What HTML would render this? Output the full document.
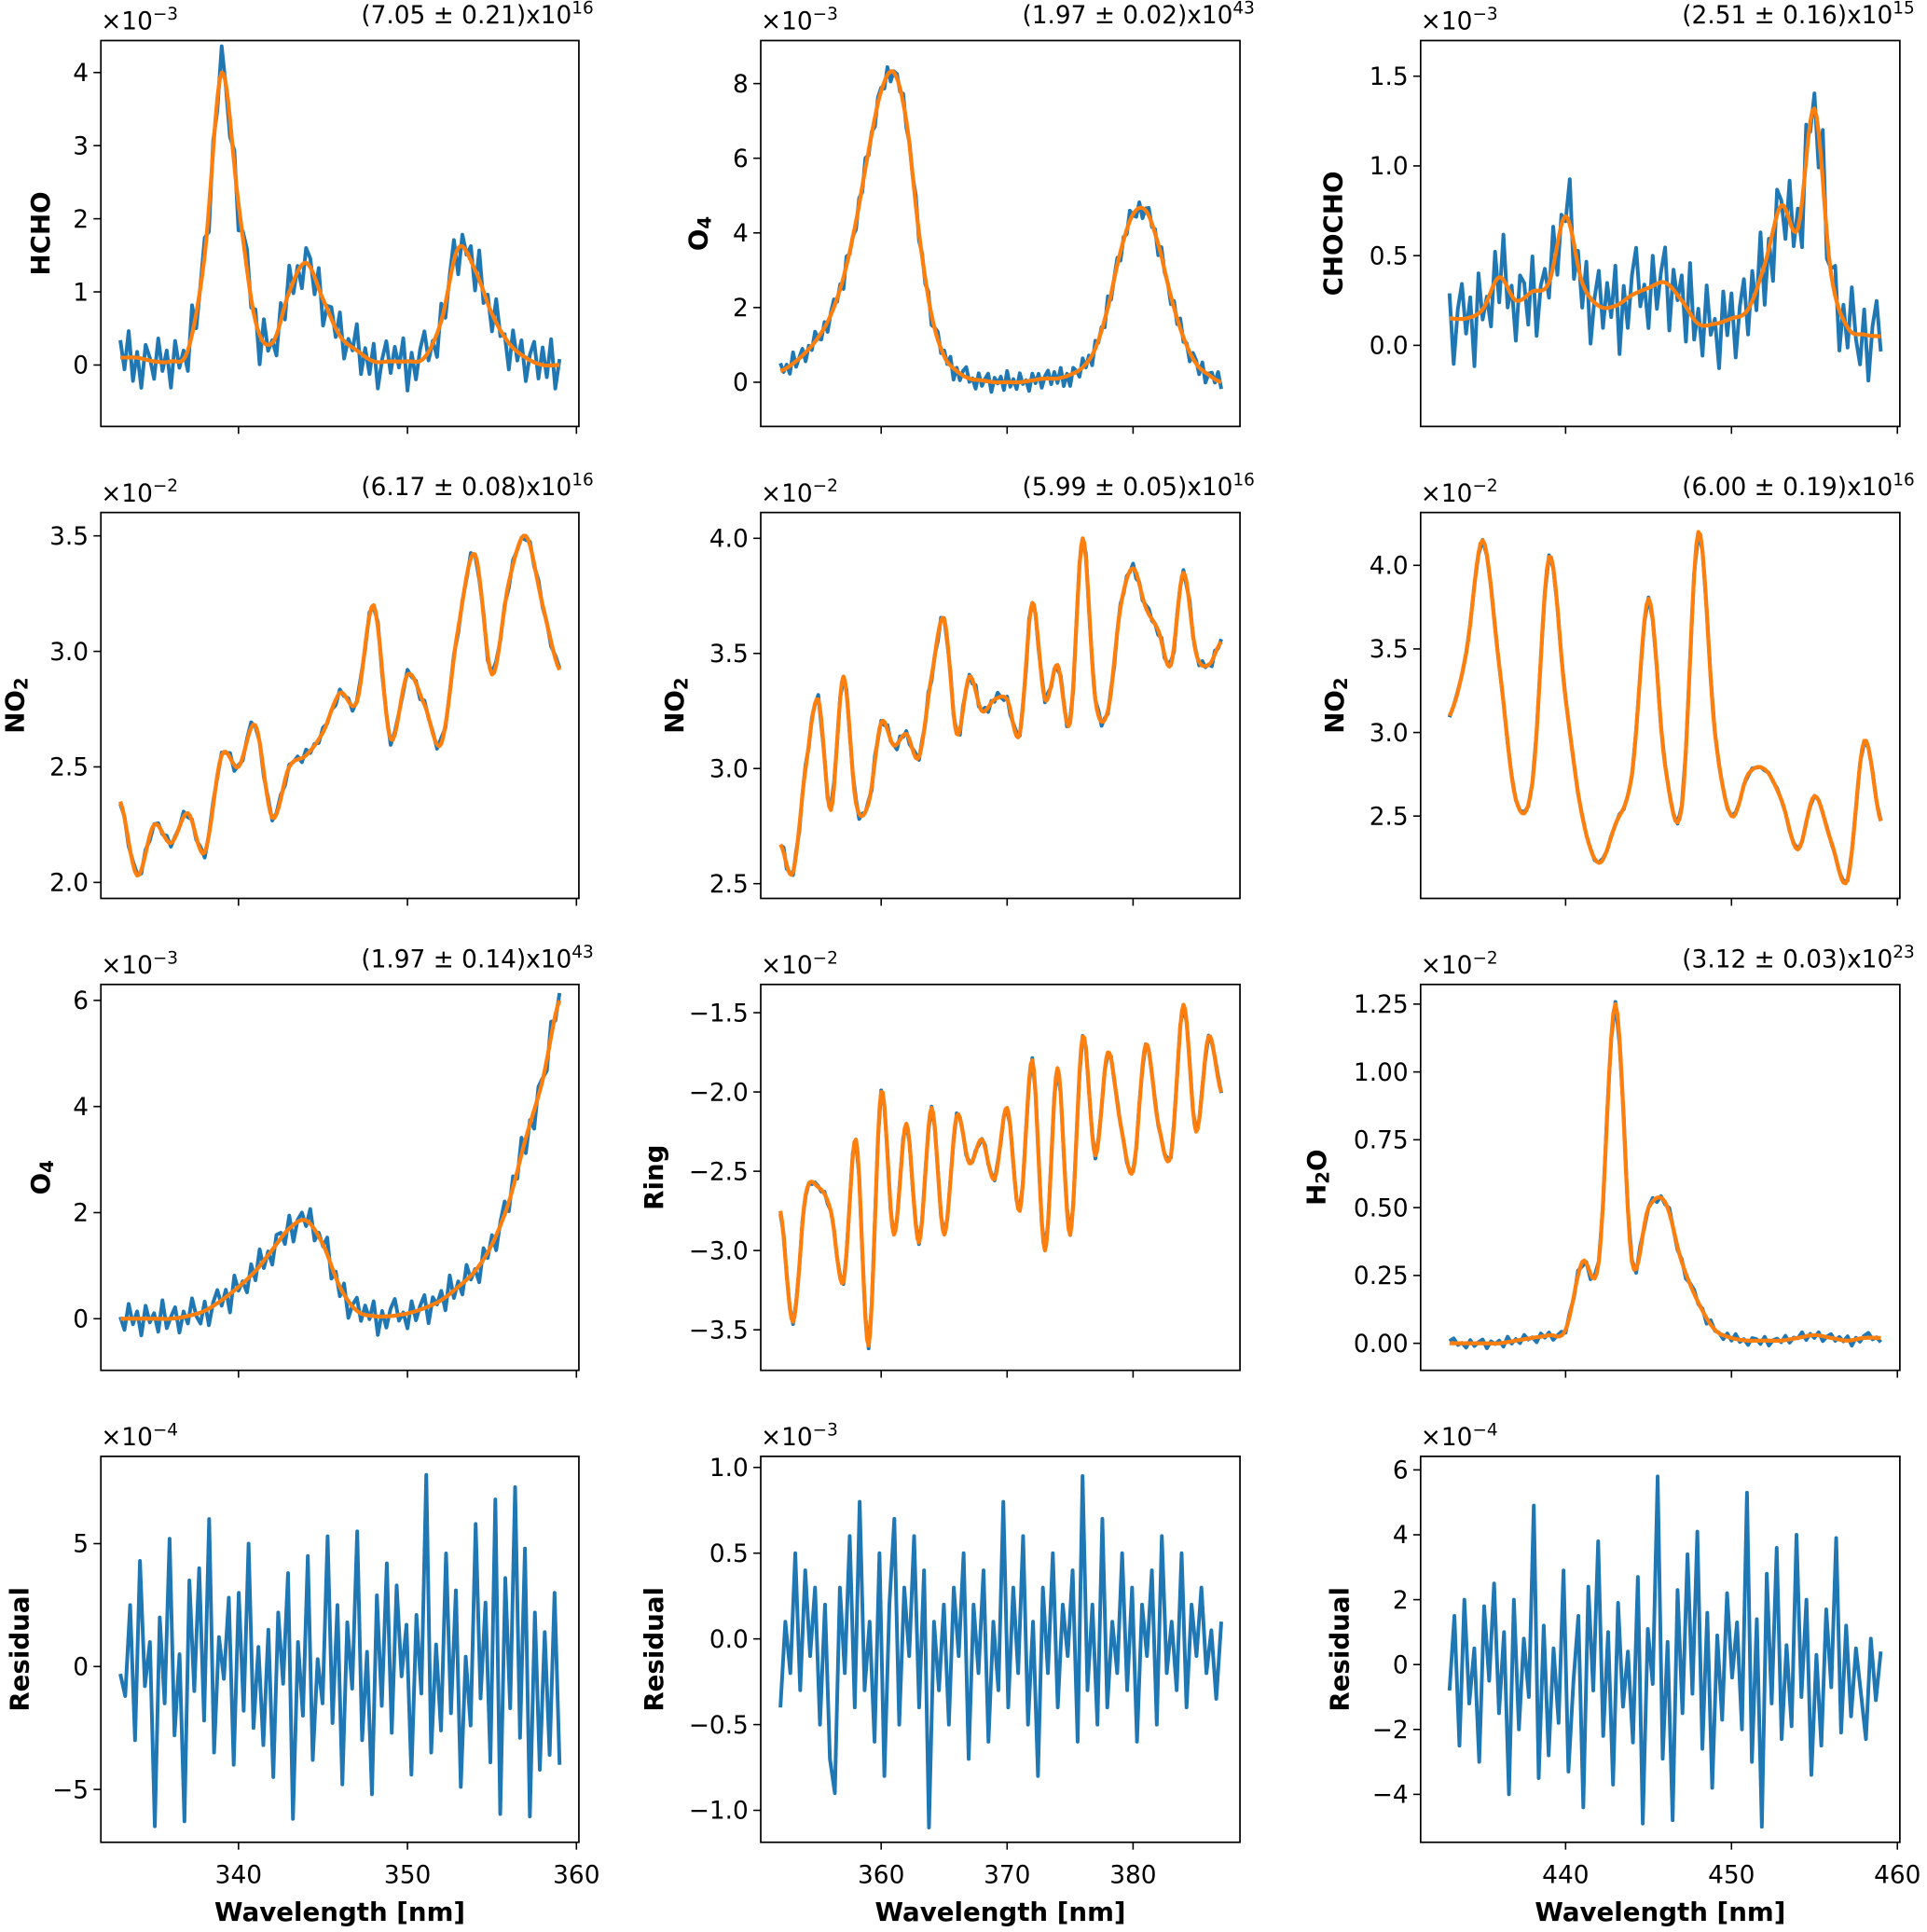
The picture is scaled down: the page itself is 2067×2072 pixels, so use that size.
<!DOCTYPE html>
<html><head><meta charset="utf-8">
<style>
html,body{margin:0;padding:0;background:#fff;}
svg{display:block;}
text{font-family:"DejaVu Sans","Liberation Sans",sans-serif;fill:#000;}
</style></head>
<body>
<svg id="fig" width="2067" height="2072" viewBox="0 0 1568 1572" xmlns="http://www.w3.org/2000/svg"></svg>
<script>
// ---- data ----
const hchoFit=[0.1,0.1,0.05,0.05,0.2,1.5,4.0,2.2,0.6,0.3,1.0,1.4,0.9,0.4,0.2,0.05,0.05,0.05,0.1,0.6,1.6,1.3,0.7,0.3,0.1,0.0,0.0];
const o4aFit=[0.3,0.5,0.8,1.2,1.8,2.8,4.3,6.2,7.8,8.3,7.0,4.0,1.8,0.7,0.3,0.1,0.05,0,0,0,0.05,0.1,0.1,0.2,0.4,0.9,2.0,3.5,4.5,4.6,3.7,2.3,1.2,0.5,0.2,0.0];
const chochoFit=[0.15,0.15,0.2,0.38,0.25,0.3,0.35,0.72,0.35,0.22,0.22,0.28,0.32,0.35,0.25,0.12,0.12,0.15,0.2,0.45,0.78,0.65,1.32,0.4,0.1,0.06,0.05];
const no2aFit=[2.35,2.03,2.25,2.17,2.3,2.13,2.55,2.5,2.68,2.28,2.5,2.55,2.65,2.82,2.78,3.2,2.62,2.9,2.77,2.6,3.1,3.42,2.9,3.3,3.5,3.2,2.92];
const no2bFit=[2.67,2.55,3.0,3.3,2.82,3.4,2.85,2.85,3.2,3.1,3.15,3.05,3.4,3.65,3.15,3.4,3.25,3.3,3.3,3.15,3.72,3.3,3.45,3.2,4.0,3.3,3.25,3.7,3.87,3.7,3.6,3.45,3.85,3.5,3.45,3.55];
const no2cFit=[3.1,3.47,4.15,3.4,2.6,2.7,4.05,3.2,2.5,2.22,2.45,2.75,3.8,2.8,2.55,4.2,3.0,2.5,2.75,2.78,2.6,2.3,2.62,2.35,2.12,2.95,2.47];
const o4bFit=[0,0,0,0,0.05,0.15,0.35,0.6,0.9,1.3,1.7,1.85,1.4,0.6,0.15,0.05,0.05,0.1,0.2,0.35,0.6,0.9,1.4,2.2,3.4,4.5,6.0];
const ringFit=[-2.75,-3.45,-2.65,-2.6,-2.75,-3.2,-2.3,-3.6,-2.0,-2.9,-2.2,-2.95,-2.1,-2.9,-2.15,-2.45,-2.3,-2.55,-2.1,-2.75,-1.8,-3.0,-1.85,-2.9,-1.65,-2.4,-1.75,-2.2,-2.5,-1.7,-2.2,-2.4,-1.45,-2.25,-1.65,-2.0];
const h2oFit=[0,0,0,0,0.01,0.02,0.03,0.05,0.3,0.3,1.25,0.3,0.5,0.52,0.3,0.15,0.05,0.02,0.01,0.01,0.01,0.02,0.03,0.02,0.01,0.02,0.02];
const noise=[0.6,-0.4,0.9,-0.8,0.2,-1.0,0.5,0.1,-0.6,0.8,-0.3,0.4,-0.9,0.7,-0.2,0.3,-0.7,1.0,-0.5,0.1,0.6,-0.8,0.3,-0.4,0.9,-0.1,-0.6,0.5,-0.9,0.2,0.7,-0.3,0.4,-1.0,0.8,-0.2,0.1,-0.7,0.6,-0.5,0.9,-0.4,0.2,-0.8,0.5,0.3,-0.6,0.7,-0.9,0.1,0.4,-0.3,0.8,-0.6,0.2,-0.1,0.9,-0.7,0.3,-0.5,0.6,-0.9,0.1,0.7,-0.4,0.5,-0.2,0.8,-1.0,0.3,-0.6,0.4,0.9,-0.3,0.1,-0.8,0.6,-0.5,0.2,0.7,-0.9,0.4,-0.1,0.5,-0.7,1.0,-0.4,0.3,-0.6,0.8,-0.2,0.1,-0.9,0.6,-0.3,0.5,-0.8,0.2,0.7,-0.5];
const res1=[-0.3,-1.2,2.5,-3.0,4.3,-0.8,1.0,-6.5,2.0,-1.5,5.2,-2.8,0.5,-6.3,3.5,-1.0,4.0,-2.2,6.0,-3.5,1.2,-0.5,2.8,-4.0,3.0,-1.8,5.0,-2.5,0.8,-3.2,1.5,-4.5,2.2,-0.7,3.8,-6.2,1.0,-2.0,4.5,-3.8,0.3,-1.5,5.3,-2.3,2.5,-4.8,1.8,-0.9,5.5,-3.0,0.6,-5.2,2.9,-1.6,4.2,-2.7,3.3,-0.4,1.7,-4.4,2.1,-1.1,7.8,-3.5,0.9,-2.6,4.6,-1.9,3.1,-4.9,0.4,-2.4,5.8,-1.3,2.6,-3.9,6.8,-6.0,3.6,-1.7,7.3,-2.9,4.8,-6.1,2.2,-4.2,1.4,-3.6,3.0,-4.0];
const res2=[-0.4,0.1,-0.2,0.5,-0.3,0.4,-0.1,0.3,-0.5,0.2,-0.7,-0.9,0.3,-0.2,0.6,-0.4,0.8,-0.3,0.1,-0.6,0.5,-0.8,0.2,0.7,-0.5,0.3,-0.1,0.6,-0.4,0.4,-1.1,0.1,-0.3,0.2,-0.5,0.3,-0.1,0.5,-0.7,0.2,-0.2,0.4,-0.6,0.1,-0.3,0.8,-0.4,0.3,-0.2,0.6,-0.5,0.1,-0.8,0.3,-0.2,0.5,-0.4,0.2,-0.1,0.4,-0.6,0.95,-0.3,0.2,-0.5,0.7,-0.4,0.1,-0.2,0.5,-0.3,0.3,-0.6,0.2,-0.1,0.4,-0.5,0.6,-0.2,0.1,-0.3,0.5,-0.4,0.2,-0.1,0.3,-0.2,0.05,-0.35,0.1];
const res3=[-0.8,1.5,-2.5,2.0,-1.2,0.5,-3.0,1.8,-0.5,2.5,-1.5,1.0,-4.0,2.0,-2.0,0.8,-1.0,4.9,-3.5,1.2,-2.8,0.5,-1.8,2.9,-3.3,-0.5,1.5,-4.4,2.4,-0.8,3.8,-2.2,1.0,-3.7,1.9,-1.3,0.4,-2.4,2.7,-4.9,1.1,-0.6,5.8,-2.9,0.7,-4.8,2.3,-1.5,3.4,-0.9,4.1,-2.6,1.6,-3.8,0.9,-1.7,2.2,-0.4,1.3,-2.0,5.3,-3.0,1.4,-5.0,2.8,-1.2,3.6,-2.3,0.6,-1.9,4.0,-1.0,2.0,-3.4,0.3,-2.5,1.7,-0.7,3.9,-2.1,1.2,-1.6,0.5,-0.9,-2.3,0.8,-1.1,0.4];

const fig=document.getElementById('fig');
const NS='http://www.w3.org/2000/svg';
function mk(tag,attrs,parent){const e=document.createElementNS(NS,tag);for(const k in attrs)e.setAttribute(k,attrs[k]);(parent||fig).appendChild(e);return e;}
function spline(a,t){const n=a.length;const j=Math.max(0,Math.min(Math.floor(t),n-2));const f=t-j;
 const p0=a[Math.max(j-1,0)],p1=a[j],p2=a[j+1],p3=a[Math.min(j+2,n-1)];
 return 0.5*((2*p1)+(-p0+p2)*f+(2*p0-5*p1+4*p2-p3)*f*f+(-p0+3*p1-3*p2+p3)*f*f*f);}
const cols=[{x0:82,x1:471,ref:[340,194,360,469],start:333,end:359,ticks:[340,350,360]},
 {x0:619,x1:1009,ref:[360,717,380,922],start:352,end:387,ticks:[360,370,380]},
 {x0:1156,x1:1546,ref:[440,1274,450,1409],start:433,end:459,ticks:[440,450,460]}];
const rows=[[33,347],[417,731],[801,1115],[1185,1499]];
const panels=[
 {r:0,c:0,fit:hchoFit,amp:0.4,off:0,yref:[4,59,0,297],ticks:[0,1,2,3,4],dec:0,exp:'−3',lab:'HCHO',lx:33,ann:['(7.05 ± 0.21)x10','16']},
 {r:0,c:1,fit:o4aFit,amp:0.3,off:13,yref:[8,68,0,311],ticks:[0,2,4,6,8],dec:0,exp:'−3',lab:'O',sub:'4',lx:568,ann:['(1.97 ± 0.02)x10','43']},
 {r:0,c:2,fit:chochoFit,amp:0.28,off:27,yref:[1.5,62,0,281],ticks:[0,0.5,1,1.5],dec:1,exp:'−3',lab:'CHOCHO',lx:1085,ann:['(2.51 ± 0.16)x10','15']},
 {r:1,c:0,fit:no2aFit,amp:0.025,off:41,yref:[3.5,436,2.0,718],ticks:[2,2.5,3,3.5],dec:1,exp:'−2',lab:'NO',sub:'2',lx:12,ann:['(6.17 ± 0.08)x10','16']},
 {r:1,c:1,fit:no2bFit,amp:0.025,off:55,yref:[4.0,438,2.5,719],ticks:[2.5,3,3.5,4],dec:1,exp:'−2',lab:'NO',sub:'2',lx:549,ann:['(5.99 ± 0.05)x10','16']},
 {r:1,c:2,fit:no2cFit,amp:0.01,off:61,yref:[4.0,460,2.5,664],ticks:[2.5,3,3.5,4],dec:1,exp:'−2',lab:'NO',sub:'2',lx:1086,ann:['(6.00 ± 0.19)x10','16']},
 {r:2,c:0,fit:o4bFit,amp:0.35,off:7,yref:[6,814,0,1073],ticks:[0,2,4,6],dec:0,exp:'−3',lab:'O',sub:'4',lx:33,ann:['(1.97 ± 0.14)x10','43']},
 {r:2,c:1,fit:ringFit,amp:0.02,off:33,yref:[-1.5,824,-3.5,1082],ticks:[-3.5,-3,-2.5,-2,-1.5],dec:1,exp:'−2',lab:'Ring',lx:532,ann:null},
 {r:2,c:2,fit:h2oFit,amp:0.02,off:71,yref:[1.25,817,0,1093],ticks:[0,0.25,0.5,0.75,1,1.25],dec:2,exp:'−2',lab:'H',sub:'2',lab2:'O',lx:1071,ann:['(3.12 ± 0.03)x10','23']},
 {r:3,c:0,res:res1,yref:[5,1256,-5,1456],ticks:[-5,0,5],dec:0,exp:'−4',lab:'Residual',lx:16},
 {r:3,c:1,res:res2,yref:[1,1194,-1,1473],ticks:[-1,-0.5,0,0.5,1],dec:1,exp:'−3',lab:'Residual',lx:532},
 {r:3,c:2,res:res3,yref:[6,1196,-4,1460],ticks:[-4,-2,0,2,4,6],dec:0,exp:'−4',lab:'Residual',lx:1090}
];
function fmt(v,d){let s=v.toFixed(d);if(v<0)s='−'+s.slice(1);return s;}
panels.forEach((p,i)=>{
 const C=cols[p.c],R=rows[p.r];
 const g=mk('g',{});
 
 
 const xs=v=>C.ref[1]+(v-C.ref[0])*(C.ref[3]-C.ref[1])/(C.ref[2]-C.ref[0]);
 const ys=v=>p.yref[1]+(v-p.yref[0])*(p.yref[3]-p.yref[1])/(p.yref[2]-p.yref[0]);
 const n=p.fit?p.fit.length:0;
 const step=p.fit?(C.end-C.start)/(n-1):0;
 const cid='clip'+i;
 const cp=mk('clipPath',{id:cid},g);mk('rect',{x:C.x0,y:R[0],width:C.x1-C.x0,height:R[1]-R[0]},cp);
 if(p.fit){
  let pts=[];const fine=(n-1)*4;
  for(let k=0;k<=fine;k++){const t=k/4;
   const v=spline(p.fit,t)+p.amp*noise[(k+p.off)%noise.length];
   pts.push(xs(C.start+t*step).toFixed(1)+','+ys(v).toFixed(1));}
  const bl=mk('polyline',{points:pts.join(' '),fill:'none',stroke:'#1f77b4','stroke-width':3,'stroke-linejoin':'round','clip-path':'url(#'+cid+')'},g);
  
  
  let op=[];const ff=(n-1)*8;
  for(let k=0;k<=ff;k++){const t=k/8;op.push(xs(C.start+t*step).toFixed(1)+','+ys(spline(p.fit,t)).toFixed(1));}
  const ol=mk('polyline',{points:op.join(' '),fill:'none',stroke:'#ff7f0e','stroke-width':3.2,'stroke-linejoin':'round','clip-path':'url(#'+cid+')'},g);
  
  
 } else {
  const m=p.res.length,st=(C.end-C.start)/(m-1);
  const rp=p.res.map((v,k)=>xs(C.start+k*st).toFixed(1)+','+ys(v).toFixed(1)).join(' ');
  const rl=mk('polyline',{points:rp,fill:'none',stroke:'#1f77b4','stroke-width':3,'stroke-linejoin':'round'},g);
  
  
 }
 const fr=mk('rect',{x:C.x0,y:R[0],width:C.x1-C.x0,height:R[1]-R[0],fill:'none',stroke:'#000','stroke-width':1.3},g);
 
 
 p.ticks.forEach(t=>{const y=ys(t);
  mk('line',{x1:C.x0-6,x2:C.x0,y1:y,y2:y,stroke:'#000','stroke-width':1.2},g);
  const tl=mk('text',{x:C.x0-10,y:y+7,'text-anchor':'end','font-size':20},g);tl.textContent=fmt(t,p.dec);
  
  
 });
 C.ticks.forEach(t=>{const x=xs(t);
  mk('line',{x1:x,x2:x,y1:R[1],y2:R[1]+6,stroke:'#000','stroke-width':1.2},g);
  if(p.r===3){const tl=mk('text',{x:x,y:R[1]+33,'text-anchor':'middle','font-size':20},g);tl.textContent=t;
   
   }
 });
 const ex=mk('text',{x:C.x0,y:R[0]-9,'font-size':20},g);
 
 
 ex.innerHTML='×10<tspan dy="-8" font-size="14">'+p.exp+'</tspan>';
 if(p.ann){const an=mk('text',{x:C.x1+12,y:R[0]-14,'text-anchor':'end','font-size':20},g);
  
  
  an.innerHTML=p.ann[0]+'<tspan dy="-8" font-size="14">'+p.ann[1]+'</tspan>';}
 const cy=(R[0]+R[1])/2;
 const yl=mk('text',{x:p.lx,y:cy,'text-anchor':'middle','font-size':21,'font-weight':'bold',transform:'rotate(-90 '+p.lx+' '+cy+')','dominant-baseline':'central'},g);
 
 
 let h=p.lab;if(p.sub)h+='<tspan dy="5" font-size="15">'+p.sub+'</tspan>';if(p.lab2)h+='<tspan dy="-5">'+p.lab2+'</tspan>';
 yl.innerHTML=h;
 if(p.r===3){const xl=mk('text',{x:(C.x0+C.x1)/2,y:R[1]+64,'text-anchor':'middle','font-size':21,'font-weight':'bold'},g);
  xl.textContent='Wavelength [nm]';
  
  }
});
</script>
</body></html>
